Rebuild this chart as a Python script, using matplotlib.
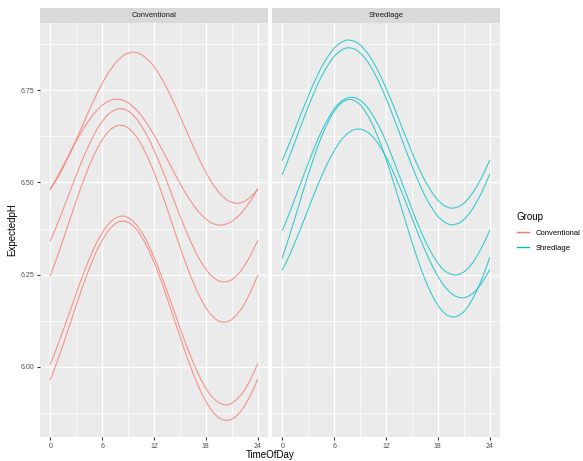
import matplotlib.pyplot as plt
from matplotlib.lines import Line2D

# ========================
# Data (every half hour)
# ========================
hours = [h / 2 for h in range(49)]

conv_1 = [6.482, 6.499, 6.519, 6.541, 6.565, 6.590, 6.616, 6.643, 6.669, 6.696, 6.721, 6.746, 6.768,
          6.789, 6.807, 6.823, 6.835, 6.845, 6.850, 6.853, 6.852, 6.847, 6.839, 6.828, 6.814, 6.797,
          6.777, 6.755, 6.731, 6.706, 6.680, 6.653, 6.627, 6.600, 6.575, 6.550, 6.528, 6.507, 6.489,
          6.473, 6.461, 6.451, 6.446, 6.443, 6.444, 6.449, 6.457, 6.468, 6.482]
conv_2 = [6.481, 6.502, 6.524, 6.546, 6.568, 6.591, 6.612, 6.633, 6.652, 6.669, 6.685, 6.698, 6.709,
          6.718, 6.723, 6.726, 6.725, 6.722, 6.716, 6.707, 6.696, 6.682, 6.666, 6.648, 6.629, 6.608,
          6.586, 6.564, 6.542, 6.519, 6.498, 6.477, 6.458, 6.441, 6.425, 6.412, 6.401, 6.392, 6.387,
          6.384, 6.385, 6.388, 6.394, 6.403, 6.414, 6.428, 6.444, 6.462, 6.481]
conv_3 = [6.342, 6.369, 6.398, 6.428, 6.459, 6.490, 6.520, 6.549, 6.577, 6.603, 6.627, 6.648, 6.665,
          6.680, 6.690, 6.697, 6.700, 6.699, 6.694, 6.684, 6.672, 6.655, 6.635, 6.613, 6.588, 6.561,
          6.532, 6.502, 6.471, 6.440, 6.410, 6.381, 6.353, 6.327, 6.303, 6.282, 6.265, 6.250, 6.240,
          6.233, 6.230, 6.231, 6.236, 6.246, 6.258, 6.275, 6.295, 6.317, 6.342]
conv_4 = [6.248, 6.279, 6.312, 6.346, 6.381, 6.416, 6.450, 6.484, 6.515, 6.545, 6.572, 6.595, 6.616,
          6.632, 6.644, 6.652, 6.655, 6.654, 6.648, 6.637, 6.623, 6.604, 6.582, 6.556, 6.528, 6.497,
          6.464, 6.430, 6.395, 6.360, 6.326, 6.292, 6.261, 6.231, 6.204, 6.181, 6.160, 6.144, 6.132,
          6.124, 6.121, 6.122, 6.128, 6.139, 6.153, 6.172, 6.194, 6.220, 6.248]
conv_5 = [6.008, 6.037, 6.068, 6.100, 6.133, 6.166, 6.200, 6.232, 6.263, 6.292, 6.319, 6.343, 6.364,
          6.381, 6.394, 6.403, 6.408, 6.409, 6.405, 6.396, 6.384, 6.368, 6.348, 6.324, 6.298, 6.269,
          6.238, 6.206, 6.173, 6.140, 6.106, 6.074, 6.043, 6.014, 5.987, 5.963, 5.942, 5.925, 5.912,
          5.903, 5.898, 5.897, 5.901, 5.910, 5.922, 5.938, 5.958, 5.982, 6.008]
conv_6 = [5.966, 5.996, 6.028, 6.062, 6.097, 6.132, 6.167, 6.202, 6.235, 6.266, 6.295, 6.321, 6.343,
          6.362, 6.377, 6.388, 6.394, 6.395, 6.392, 6.384, 6.372, 6.355, 6.335, 6.311, 6.284, 6.254,
          6.222, 6.188, 6.153, 6.118, 6.083, 6.048, 6.015, 5.984, 5.955, 5.929, 5.907, 5.888, 5.873,
          5.862, 5.856, 5.855, 5.858, 5.866, 5.878, 5.895, 5.915, 5.939, 5.966]

shred_1 = [6.560, 6.588, 6.616, 6.646, 6.676, 6.705, 6.734, 6.762, 6.787, 6.811, 6.831, 6.849, 6.864,
           6.875, 6.882, 6.886, 6.885, 6.881, 6.873, 6.861, 6.846, 6.827, 6.806, 6.782, 6.756, 6.728,
           6.700, 6.670, 6.640, 6.611, 6.582, 6.554, 6.529, 6.505, 6.485, 6.467, 6.452, 6.441, 6.434,
           6.430, 6.431, 6.435, 6.443, 6.455, 6.470, 6.489, 6.510, 6.534, 6.560]
shred_2 = [6.522, 6.551, 6.581, 6.612, 6.644, 6.675, 6.705, 6.734, 6.761, 6.786, 6.807, 6.826, 6.842,
           6.853, 6.861, 6.865, 6.864, 6.860, 6.851, 6.839, 6.823, 6.803, 6.781, 6.756, 6.728, 6.699,
           6.669, 6.638, 6.606, 6.575, 6.545, 6.516, 6.489, 6.464, 6.443, 6.424, 6.408, 6.397, 6.389,
           6.385, 6.386, 6.390, 6.399, 6.411, 6.427, 6.447, 6.469, 6.494, 6.522]
shred_3 = [6.370, 6.398, 6.428, 6.459, 6.490, 6.521, 6.552, 6.582, 6.611, 6.637, 6.660, 6.681, 6.699,
           6.713, 6.723, 6.729, 6.731, 6.729, 6.723, 6.713, 6.699, 6.681, 6.660, 6.637, 6.611, 6.582,
           6.552, 6.521, 6.490, 6.459, 6.428, 6.398, 6.370, 6.343, 6.320, 6.299, 6.281, 6.267, 6.257,
           6.251, 6.249, 6.251, 6.257, 6.267, 6.281, 6.299, 6.320, 6.343, 6.370]
shred_4 = [6.296, 6.332, 6.369, 6.407, 6.445, 6.484, 6.521, 6.557, 6.591, 6.622, 6.649, 6.673, 6.693,
           6.708, 6.719, 6.724, 6.725, 6.720, 6.711, 6.696, 6.677, 6.654, 6.627, 6.597, 6.564, 6.528,
           6.491, 6.453, 6.415, 6.376, 6.339, 6.303, 6.269, 6.238, 6.211, 6.187, 6.167, 6.152, 6.141,
           6.136, 6.135, 6.140, 6.149, 6.164, 6.183, 6.206, 6.233, 6.263, 6.296]
shred_5 = [6.263, 6.286, 6.312, 6.340, 6.368, 6.398, 6.428, 6.458, 6.487, 6.515, 6.541, 6.565, 6.586,
           6.605, 6.620, 6.632, 6.640, 6.644, 6.645, 6.641, 6.634, 6.623, 6.608, 6.590, 6.569, 6.546,
           6.520, 6.492, 6.464, 6.434, 6.404, 6.374, 6.345, 6.317, 6.291, 6.267, 6.246, 6.227, 6.212,
           6.200, 6.192, 6.188, 6.187, 6.191, 6.198, 6.209, 6.224, 6.242, 6.263]

groups = ["Conventional", "Shredlage"]
group_colors = ["#F8766D", "#00BFC4"]
group_lines = [[conv_1, conv_2, conv_3, conv_4, conv_5, conv_6],
               [shred_1, shred_2, shred_3, shred_4, shred_5]]

x_ticks = [0, 6, 12, 18, 24]
y_ticks = [6.00, 6.25, 6.50, 6.75]
y_tick_labels = ["6.00", "6.25", "6.50", "6.75"]

# ========================
# Figure (ggplot2 grey theme look)
# ========================
plt.rcParams['font.family'] = ['Liberation Sans', 'DejaVu Sans']
fig = plt.figure(figsize=(5.83, 4.61), dpi=100)
W, H = 583, 461

def ax_at(x0, y0, x1, y1):
    # pixel box -> figure fraction
    return fig.add_axes([x0 / W, 1 - y1 / H, (x1 - x0) / W, (y1 - y0) / H])

for i, (name, col, series) in enumerate(zip(groups, group_colors, group_lines)):
    x0 = 40 + i * 232
    ax = ax_at(x0, 23, x0 + 228, 437)
    ax.set_facecolor("#EBEBEB")
    for s in series:
        ax.plot(hours, s, color=col, lw=0.8, alpha=0.75, solid_joinstyle="round")
    ax.set_xlim(-1.2, 25.2)
    ax.set_ylim(5.81, 6.932)
    ax.set_xticks(x_ticks)
    ax.set_xticks([3, 9, 15, 21], minor=True)
    ax.set_yticks(y_ticks)
    ax.set_yticks([5.875, 6.125, 6.375, 6.625, 6.875], minor=True)
    ax.grid(which="major", color="white", lw=1.0)
    ax.grid(which="minor", color="white", lw=0.5)
    ax.set_axisbelow(True)
    for sp in ax.spines.values():
        sp.set_visible(False)
    ax.tick_params(which="major", length=2.5, color="#333333", labelsize=5,
                   labelcolor="#4D4D4D", pad=1.5)
    ax.tick_params(which="minor", length=0)
    if i == 0:
        ax.set_yticklabels(y_tick_labels)
    else:
        ax.tick_params(axis="y", which="both", length=0, labelleft=False)

    # facet strip
    st = ax_at(x0, 8, x0 + 228, 23)
    st.set_facecolor("#D9D9D9")
    st.set_xticks([])
    st.set_yticks([])
    for sp in st.spines.values():
        sp.set_visible(False)
    st.text(0.5, 0.5, name, ha="center", va="center", fontsize=5.5, color="#1A1A1A")

fig.text(270 / W, 1 - 455 / H, "TimeOfDay", ha="center", va="center", fontsize=7)
fig.text(12 / W, 1 - 230 / H, "ExpectedpH", ha="center", va="center", rotation=90, fontsize=7)

handles = [Line2D([], [], color=c, lw=1) for c in group_colors]
leg = fig.legend(handles, groups, title="Group",
                 loc="upper left", bbox_to_anchor=(510 / W, 1 - 205 / H),
                 frameon=False, fontsize=5.5, title_fontsize=7, handlelength=1.6,
                 labelspacing=1.0)
leg._legend_box.align = "left"

fig.savefig("out.png", dpi=100)
